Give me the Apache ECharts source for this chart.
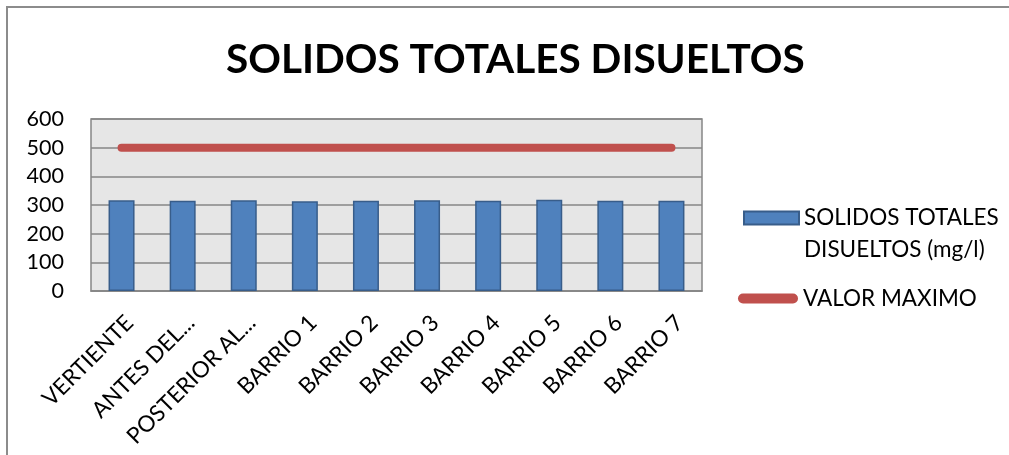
<!DOCTYPE html>
<html>
<head>
<meta charset="utf-8">
<script src="https://cdn.jsdelivr.net/npm/echarts@6/dist/echarts.min.js"></script>
<style>
  html, body { margin: 0; padding: 0; background: #fff; }
  #chart { width: 1009px; height: 455px; }
</style>
</head>
<body>
<div id="chart"></div>
<script>
// datos
var categorias = ['VERTIENTE', 'ANTES DEL...', 'POSTERIOR AL...', 'BARRIO 1', 'BARRIO 2',
  'BARRIO 3', 'BARRIO 4', 'BARRIO 5', 'BARRIO 6', 'BARRIO 7'];
var solidos = [317, 315, 317, 313, 315, 317, 315, 318, 315, 315];
var valorMaximo = [500, 500, 500, 500, 500, 500, 500, 500, 500, 500];
var ticksY = [0, 100, 200, 300, 400, 500, 600];

var FUENTE = 'Lato';
var chart = echarts.init(document.getElementById('chart'));

chart.setOption({
  animation: false,
  backgroundColor: '#fff',
  title: {
    text: 'SOLIDOS TOTALES DISUELTOS',
    left: 226,
    top: 39,
    padding: 0,
    textStyle: { fontFamily: FUENTE, fontWeight: 'bold', fontSize: 40.5, color: '#000' }
  },
  graphic: [{
    type: 'rect',
    shape: { x: 7, y: 7, width: 1010, height: 460 },
    style: { fill: 'none', stroke: '#8c8c8c', lineWidth: 2 },
    silent: true
  }],
  grid: {
    left: 91, right: 307, top: 119, bottom: 164,
    outerBoundsMode: 'none',
    show: true,
    backgroundColor: '#e6e6e6',
    borderColor: '#868686',
    borderWidth: 1.5
  },
  legend: [{
    data: ['SOLIDOS TOTALES DISUELTOS (mg/l)'],
    orient: 'vertical',
    left: 743,
    top: 170,
    padding: 0,
    icon: 'rect',
    itemWidth: 55,
    itemHeight: 13,
    // linea vacia arriba para que el icono quede a la altura de la primera linea
    formatter: function () { return '\nSOLIDOS TOTALES\nDISUELTOS (mg/l)'; },
    textStyle: { fontFamily: FUENTE, fontSize: 22.5, color: '#000', lineHeight: 32 }
  }, {
    data: [{ name: 'VALOR MAXIMO', icon: 'path://M5,0 L55,0 A5,5 0 0 1 55,10 L5,10 A5,5 0 0 1 5,0 Z' }],
    orient: 'vertical',
    left: 738,
    top: 287,
    padding: 0,
    itemWidth: 60,
    itemHeight: 10,
    textStyle: { fontFamily: FUENTE, fontSize: 22.5, color: '#000' }
  }],
  xAxis: {
    type: 'category',
    data: categorias,
    axisLine: { show: true, lineStyle: { color: '#868686', width: 1.5 } },
    axisTick: { show: false },
    axisLabel: {
      interval: 0,
      rotate: 45,
      margin: 20,
      align: 'right',
      verticalAlign: 'top',
      fontFamily: FUENTE,
      fontSize: 22.5,
      color: '#000'
    }
  },
  yAxis: {
    type: 'value',
    min: ticksY[0],
    max: ticksY[ticksY.length - 1],
    interval: 100,
    axisLine: { show: false },
    axisTick: { show: false },
    axisLabel: { margin: 27, fontFamily: FUENTE, fontSize: 21.5, color: '#000' },
    splitLine: { show: true, lineStyle: { color: '#868686', width: 1.5 } }
  },
  series: [{
    name: 'SOLIDOS TOTALES DISUELTOS (mg/l)',
    type: 'bar',
    data: solidos,
    barWidth: 26,
    itemStyle: { color: '#4f81bd', borderColor: '#385d8a', borderWidth: 1.5 }
  }, {
    name: 'VALOR MAXIMO',
    type: 'line',
    data: valorMaximo,
    symbol: 'none',
    color: '#c0504d',
    itemStyle: { color: '#c0504d', borderWidth: 0 },
    lineStyle: { color: '#c0504d', width: 8, cap: 'round' }
  }]
});
</script>
</body>
</html>
